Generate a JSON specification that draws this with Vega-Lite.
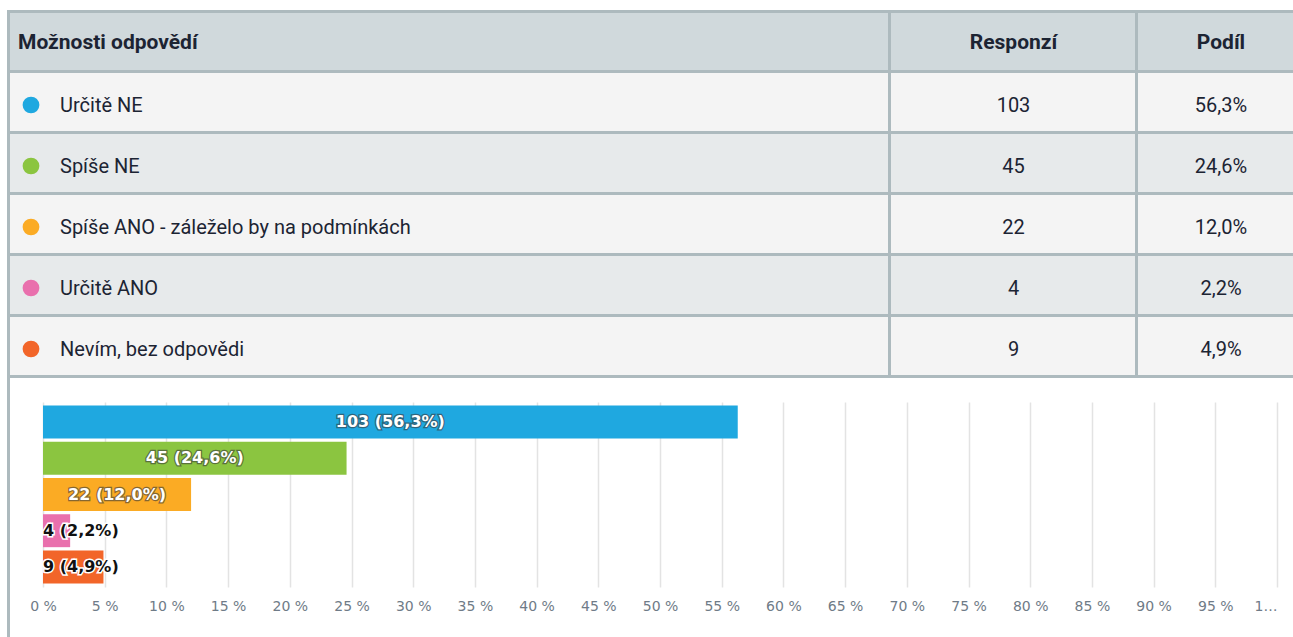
{
  "$schema": "https://vega.github.io/schema/vega-lite/v6.json",
  "padding": {"left": 7, "top": 10, "right": 0, "bottom": 0},
  "background": "white",
  "config": {"view": {"stroke": null}},
  "datasets": {
    "odpovedi": [
      {"moznost": "Určitě NE", "responzi": 103, "podil": 56.3},
      {"moznost": "Spíše NE", "responzi": 45, "podil": 24.6},
      {"moznost": "Spíše ANO - záleželo by na podmínkách", "responzi": 22, "podil": 12.0},
      {"moznost": "Určitě ANO", "responzi": 4, "podil": 2.2},
      {"moznost": "Nevím, bez odpovědi", "responzi": 9, "podil": 4.9}
    ]
  },
  "data": {"name": "odpovedi"},
  "spacing": 0,
  "hconcat": [
    {
      "width": 3,
      "height": 627,
      "data": {"values": [{}]},
      "mark": {"type": "rect", "fill": "#adbabe"},
      "encoding": {"x": {"value": 0}, "x2": {"value": "width"}, "y": {"value": 0}, "y2": {"value": "height"}}
    },
    {
      "spacing": 24,
      "vconcat": [
        {
          "spacing": 0,
          "vconcat": [
            {
              "spacing": 0,
              "hconcat": [
                {
                  "width": 880,
                  "height": 62,
                  "data": {"values": [{}]},
                  "view": {"fill": "#adbabe", "stroke": null},
                  "layer": [
                    {"mark": {"type": "rect", "fill": "#d0d9dc", "x2Offset": -2, "y2Offset": -2}, "encoding": {"x": {"value": 0}, "x2": {"value": "width"}, "y": {"value": 3}, "y2": {"value": "height"}}},
                    {"mark": {"type": "text", "text": "Možnosti odpovědí", "align": "left", "baseline": "middle", "dy": 2, "font": "Roboto", "fontSize": 21, "fontWeight": "bold", "fill": "#1c2433"}, "encoding": {"x": {"value": 8}}}
                  ]
                },
                {
                  "width": 247,
                  "height": 62,
                  "data": {"values": [{}]},
                  "view": {"fill": "#adbabe", "stroke": null},
                  "layer": [
                    {"mark": {"type": "rect", "fill": "#d0d9dc", "x2Offset": -2, "y2Offset": -2}, "encoding": {"x": {"value": 1}, "x2": {"value": "width"}, "y": {"value": 3}, "y2": {"value": "height"}}},
                    {"mark": {"type": "text", "text": "Responzí", "align": "center", "baseline": "middle", "dy": 2, "font": "Roboto", "fontSize": 21, "fontWeight": "bold", "fill": "#1c2433"}, "encoding": {}}
                  ]
                },
                {
                  "width": 156,
                  "height": 62,
                  "data": {"values": [{}]},
                  "view": {"fill": "#adbabe", "stroke": null},
                  "layer": [
                    {"mark": {"type": "rect", "fill": "#d0d9dc", "y2Offset": -2}, "encoding": {"x": {"value": 1}, "x2": {"value": "width"}, "y": {"value": 3}, "y2": {"value": "height"}}},
                    {"mark": {"type": "text", "text": "Podíl", "align": "center", "baseline": "middle", "dx": 6, "dy": 2, "font": "Roboto", "fontSize": 21, "fontWeight": "bold", "fill": "#1c2433"}, "encoding": {}}
                  ]
                }
              ]
            },
            {
              "spacing": 0,
              "hconcat": [
                {
                  "width": 880,
                  "height": 306,
                  "view": {"fill": "#adbabe", "stroke": null},
                  "transform": [{"window": [{"op": "row_number", "as": "poradi"}]}],
                  "encoding": {"y": {"field": "moznost", "type": "nominal", "sort": null, "axis": null, "scale": {"range": [0, 304], "paddingInner": 0.0492, "paddingOuter": 0.0164}}},
                  "layer": [
                    {"mark": {"type": "rect", "x2Offset": -2}, "encoding": {"x": {"value": 0}, "x2": {"value": "width"}, "fill": {"condition": {"test": "datum.poradi % 2 == 0", "value": "#e7eaeb"}, "value": "#f4f4f4"}}},
                    {"mark": {"type": "circle", "size": 280, "opacity": 1, "yOffset": 3}, "encoding": {"x": {"value": 21}, "color": {"field": "moznost", "type": "nominal", "legend": null, "scale": {"domain": ["Určitě NE", "Spíše NE", "Spíše ANO - záleželo by na podmínkách", "Určitě ANO", "Nevím, bez odpovědi"], "range": ["#1fa8e0", "#8bc540", "#fbab24", "#e970ad", "#f26529"]}}}},
                    {"mark": {"type": "text", "align": "left", "baseline": "middle", "dy": 4, "font": "Roboto", "fontSize": 20, "fill": "#1c2433"}, "encoding": {"x": {"value": 50}, "text": {"field": "moznost"}}}
                  ]
                },
                {
                  "width": 247,
                  "height": 306,
                  "view": {"fill": "#adbabe", "stroke": null},
                  "transform": [{"window": [{"op": "row_number", "as": "poradi"}]}],
                  "encoding": {"y": {"field": "moznost", "type": "nominal", "sort": null, "axis": null, "scale": {"range": [0, 304], "paddingInner": 0.0492, "paddingOuter": 0.0164}}},
                  "layer": [
                    {"mark": {"type": "rect", "x2Offset": -2}, "encoding": {"x": {"value": 1}, "x2": {"value": "width"}, "fill": {"condition": {"test": "datum.poradi % 2 == 0", "value": "#e7eaeb"}, "value": "#f4f4f4"}}},
                    {"mark": {"type": "text", "align": "center", "baseline": "middle", "dy": 4, "font": "Roboto", "fontSize": 20, "fill": "#1c2433"}, "encoding": {"text": {"field": "responzi"}}}
                  ]
                },
                {
                  "width": 156,
                  "height": 306,
                  "view": {"fill": "#adbabe", "stroke": null},
                  "transform": [
                    {"window": [{"op": "row_number", "as": "poradi"}]},
                    {"calculate": "replace(format(datum.podil, '.1f'), '.', ',') + '%'", "as": "podil_txt"}
                  ],
                  "encoding": {"y": {"field": "moznost", "type": "nominal", "sort": null, "axis": null, "scale": {"range": [0, 304], "paddingInner": 0.0492, "paddingOuter": 0.0164}}},
                  "layer": [
                    {"mark": {"type": "rect"}, "encoding": {"x": {"value": 1}, "x2": {"value": "width"}, "fill": {"condition": {"test": "datum.poradi % 2 == 0", "value": "#e7eaeb"}, "value": "#f4f4f4"}}},
                    {"mark": {"type": "text", "align": "center", "baseline": "middle", "dx": 6, "dy": 4, "font": "Roboto", "fontSize": 20, "fill": "#1c2433"}, "encoding": {"text": {"field": "podil_txt"}}}
                  ]
                }
              ]
            }
          ]
        },
        {
          "width": 1283,
          "height": 185,
          "view": {"stroke": null},
          "transform": [
            {"calculate": "datum.responzi + ' (' + replace(format(datum.podil, '.1f'), '.', ',') + '%)'", "as": "stitek"},
            {"calculate": "datum.podil / 2", "as": "stred"}
          ],
          "encoding": {"y": {"field": "moznost", "type": "nominal", "sort": null, "axis": null, "scale": {"paddingInner": 0.09, "paddingOuter": 0.1}}},
          "layer": [
            {
              "mark": {"type": "bar"},
              "encoding": {
                "x": {"field": "podil", "type": "quantitative", "scale": {"domain": [0, 100], "range": [33, 1267], "nice": false, "zero": true},
                  "axis": {"values": [0, 5, 10, 15, 20, 25, 30, 35, 40, 45, 50, 55, 60, 65, 70, 75, 80, 85, 90, 95, 100], "labelExpr": "datum.value == 100 ? '1…' : datum.value + ' %'", "labelAlign": {"condition": {"test": "datum.value == 100", "value": "right"}, "value": "center"}, "title": null, "domain": false, "ticks": false, "grid": true, "gridColor": "#e3e3e3", "gridWidth": 1.5, "labelColor": "#6f7b87", "labelFont": "DejaVu Sans", "labelFontSize": 14, "labelPadding": 12, "labelFlush": false, "labelOverlap": false}},
                "color": {"field": "moznost", "type": "nominal", "legend": null, "scale": {"domain": ["Určitě NE", "Spíše NE", "Spíše ANO - záleželo by na podmínkách", "Určitě ANO", "Nevím, bez odpovědi"], "range": ["#1fa8e0", "#8bc540", "#fbab24", "#e970ad", "#f26529"]}}
              }
            },
            {
              "transform": [{"filter": "datum.podil >= 10"}],
              "mark": {"type": "text", "align": "center", "baseline": "middle", "font": "DejaVu Sans", "fontSize": 16, "fontWeight": "bold", "fill": "#3a3a3a", "stroke": "#3a3a3a", "strokeWidth": 2.5, "opacity": 0.6},
              "encoding": {"x": {"field": "stred", "type": "quantitative", "title": null}, "text": {"field": "stitek"}}
            },
            {
              "transform": [{"filter": "datum.podil >= 10"}],
              "mark": {"type": "text", "align": "center", "baseline": "middle", "font": "DejaVu Sans", "fontSize": 16, "fontWeight": "bold", "fill": "#ffffff"},
              "encoding": {"x": {"field": "stred", "type": "quantitative", "title": null}, "text": {"field": "stitek"}}
            },
            {
              "transform": [{"filter": "datum.podil < 10"}],
              "mark": {"type": "text", "align": "left", "baseline": "middle", "font": "DejaVu Sans", "fontSize": 16, "fontWeight": "bold", "fill": "#ffffff", "stroke": "#ffffff", "strokeWidth": 3},
              "encoding": {"x": {"datum": 0}, "text": {"field": "stitek"}}
            },
            {
              "transform": [{"filter": "datum.podil < 10"}],
              "mark": {"type": "text", "align": "left", "baseline": "middle", "font": "DejaVu Sans", "fontSize": 16, "fontWeight": "bold", "fill": "#111111"},
              "encoding": {"x": {"datum": 0}, "text": {"field": "stitek"}}
            }
          ]
        }
      ]
    }
  ]
}
